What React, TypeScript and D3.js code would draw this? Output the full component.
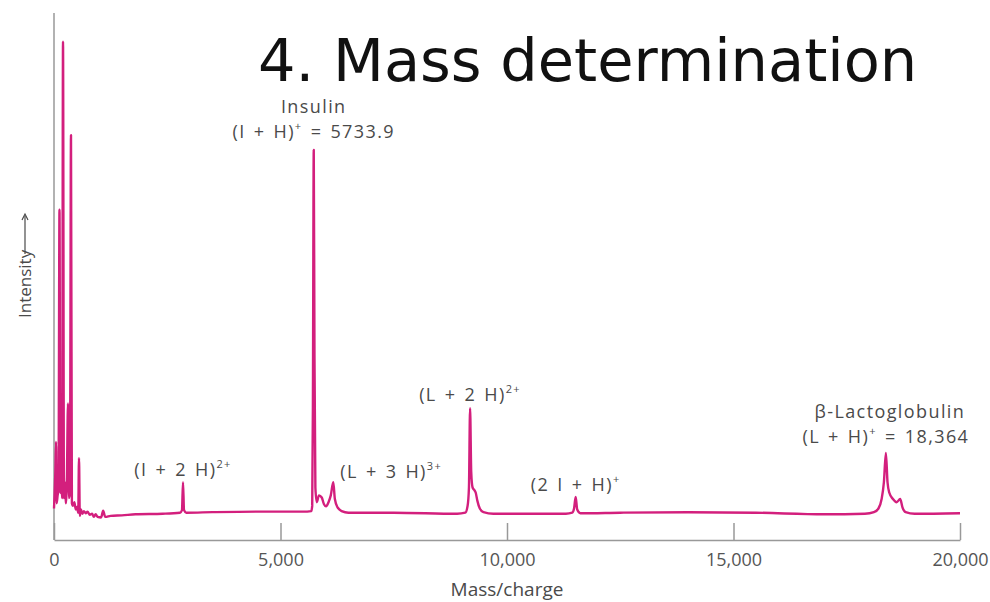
import React, { useEffect, useRef } from 'react';
import * as d3 from 'd3';

// spectrum, [mass/charge, intensity]
const matrixPeaks: [number, number][] = [
  [0, 6], [15, 9], [30, 13], [44, 18.7], [58, 7], [80, 8.5], [100, 10], [121, 62.9],
  [140, 9], [160, 11], [180, 8], [199, 94.9], [220, 8], [240, 11], [260, 7], [285, 12],
  [309, 26], [330, 8], [352, 9], [375, 77.1], [395, 7], [420, 6.5], [450, 7.2], [480, 5.8],
  [510, 6.3], [535, 5.2], [552, 15.6], [570, 4.6], [595, 5.8], [625, 5.0], [660, 5.5],
  [700, 5.1], [740, 5.4], [790, 4.8], [840, 5.0], [880, 4.4], [920, 4.9], [960, 4.4],
  [1040, 4.3], [1085, 5.6], [1130, 4.4], [1250, 4.6], [1500, 4.7], [1800, 4.9],
];
const halfInsulin: [number, number][] = [
  [2400, 5.0], [2780, 5.2], [2825, 5.7], [2848, 11], [2870, 5.7], [2920, 5.2],
  [3500, 5.3], [4500, 5.4], [5500, 5.4], [5680, 5.5],
];
const insulinPeaks: [number, number][] = [
  [5700, 6.5], [5715, 25], [5734, 74.3], [5750, 35], [5770, 10], [5800, 7.2], [5850, 8.5],
  [5910, 8.1], [5960, 6.8], [6005, 6.4], [6060, 7.2], [6110, 8.5], [6165, 11.0], [6200, 7.8],
  [6260, 6.2], [6350, 5.5], [6500, 5.2], [7500, 5.2],
];
const lactoDouble: [number, number][] = [
  [8900, 5.0], [9080, 5.2], [9130, 6.5], [9160, 10], [9185, 25.1], [9210, 13], [9240, 10],
  [9280, 9.5], [9310, 9.0], [9345, 7.5], [9400, 6.0], [9480, 5.3], [9700, 5.0],
];
const insulinDimer: [number, number][] = [
  [11300, 5.0], [11440, 5.2], [11480, 6.0], [11516, 8.2], [11550, 5.8], [11620, 5.1],
  [12500, 5.2], [14000, 5.3], [15500, 5.2], [17000, 4.9], [17900, 5.0],
];
const lactoPeaks: [number, number][] = [
  [18100, 5.3], [18200, 6.0], [18270, 7.8], [18320, 11], [18364, 16.6], [18400, 11],
  [18440, 9.0], [18520, 7.8], [18600, 7.2], [18680, 7.8], [18730, 6.2], [18800, 5.3],
  [19000, 5.0], [20000, 5.1],
];

const xTicks = [0, 5000, 10000, 15000, 20000];

const W = 990;
const H = 602;
const margin = { left: 54, right: 30, top: 15, bottom: 62 };

const labelFont = "'Open Sans', sans-serif";
const labelStyle = {
  fontFamily: labelFont,
  fontSize: 18,
  fill: '#4a4a4a',
  letterSpacing: 1.4,
  wordSpacing: 2,
} as const;

// ion name with a superscript charge, optional name line above
function Ion({ x, y, pre, sup, post = '', name }: { x: number; y: number; pre: string; sup: string; post?: string; name?: string }) {
  return (
    <text x={x} y={name ? y - 25 : y} textAnchor="middle" style={labelStyle}>
      {name && <tspan x={x + (name.startsWith('β') ? 4 : 0)}>{name}</tspan>}
      <tspan x={x} dy={name ? 25 : 0}>{pre}</tspan>
      <tspan fontSize={11} dy={-8}>{sup}</tspan>
      <tspan dy={8}>{post}</tspan>
    </text>
  );
}

export default function App() {
  const axisRef = useRef<SVGGElement>(null);

  const spectrum = [
    ...matrixPeaks, ...halfInsulin, ...insulinPeaks,
    ...lactoDouble, ...insulinDimer, ...lactoPeaks,
  ];

  const x = d3.scaleLinear().domain([0, 20000]).range([margin.left, W - margin.right]);
  const y = d3.scaleLinear().domain([0, 100]).range([H - margin.bottom, margin.top]);

  const line = d3.line<[number, number]>()
    .x(d => x(d[0]))
    .y(d => y(d[1]))
    .curve(d3.curveMonotoneX);

  useEffect(() => {
    const g = d3.select(axisRef.current);
    g.selectAll('*').remove();
    g.call(
      d3.axisBottom(x)
        .tickValues(xTicks)
        .tickFormat(d3.format(','))
        .tickSizeInner(-17)
        .tickSizeOuter(0)
        .tickPadding(13)
    );
    g.select('.domain').attr('stroke', '#999').attr('stroke-width', 1.5);
    g.selectAll('.tick line').attr('stroke', '#999').attr('stroke-width', 1.5);
    g.selectAll('.tick text')
      .attr('fill', '#555')
      .style('font-family', labelFont)
      .style('font-size', '18px');
  }, []);

  const base = H - margin.bottom;

  return (
    <svg width={W} height={H} style={{ position: 'absolute', left: 0, top: 0, background: '#fff' }}>
      <text x={258} y={81} fontFamily="'DejaVu Sans', sans-serif" fontSize={59} fill="#111">
        4. Mass determination
      </text>

      {/* y axis */}
      <line x1={margin.left} x2={margin.left} y1={13} y2={base} stroke="#999" strokeWidth={1.5} />
      <g ref={axisRef} transform={`translate(0,${base})`} />

      <path d={line(spectrum) ?? ''} fill="none" stroke="#d31f7d" strokeWidth={2.4} strokeLinejoin="round" />

      {/* peak labels */}
      <Ion x={x(5734)} y={138} name="Insulin" pre="(I + H)" sup="+" post=" = 5733.9" />
      <Ion x={x(2848)} y={476} pre="(I + 2 H)" sup="2+" />
      <Ion x={x(6165) + 58} y={478} pre="(L + 3 H)" sup="3+" />
      <Ion x={x(9185)} y={401} pre="(L + 2 H)" sup="2+" />
      <Ion x={x(11516)} y={491} pre="(2 I + H)" sup="+" />
      <Ion x={x(18364)} y={443} name="β-Lactoglobulin" pre="(L + H)" sup="+" post=" = 18,364" />

      {/* axis titles */}
      <text x={x(10000)} y={596} textAnchor="middle" fontFamily={labelFont} fontSize={19} fill="#4a4a4a">Mass/charge</text>
      <g transform="translate(31,318) rotate(-90)">
        <text x={0} y={0} fontFamily={labelFont} fontSize={17} fill="#4a4a4a">Intensity</text>
        <line x1={64} x2={102} y1={-6} y2={-6} stroke="#4a4a4a" strokeWidth={1.2} />
        <path d="M98,-9 L104,-6 L98,-3" fill="none" stroke="#4a4a4a" strokeWidth={1.2} />
      </g>
    </svg>
  );
}
